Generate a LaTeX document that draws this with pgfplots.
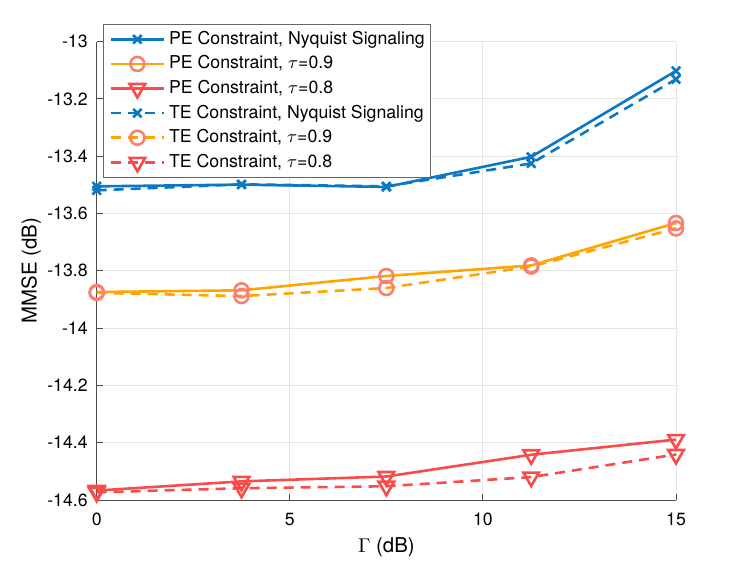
\documentclass[border=0pt]{standalone}
\usepackage{fontspec}
\setmainfont{TeX Gyre Heros}
\usepackage{pgfplots}
\pgfplotsset{compat=1.18}
\definecolor{cblue}{RGB}{10,120,195}
\definecolor{corange}{RGB}{255,165,0}
\definecolor{cred}{RGB}{250,75,75}
\definecolor{csalmon}{RGB}{250,128,114}
\begin{document}
\begin{tikzpicture}[font=\fontsize{8.85bp}{10.6bp}\selectfont]
\useasboundingbox (-48.35bp,-30.5bp) rectangle (325.15bp,250bp);
\begin{axis}[
  scale only axis, width=289.65bp, height=229.15bp,
  xmin=0, xmax=15, ymin=-14.6, ymax=-13,
  xtick={0,5,10,15}, xticklabels={0,5,10,15},
  ytick={-14.6,-14.4,-14.2,-14,-13.8,-13.6,-13.4,-13.2,-13},
  yticklabels={-14.6,-14.4,-14.2,-14,-13.8,-13.6,-13.4,-13.2,-13},
  axis x line*=bottom, axis y line*=left,
  tick align=inside, major tick length=3bp,
  grid=major, major grid style={black!10, line width=0.5bp},
  axis line style={black!70, line width=0.5bp},
  tick style={black!70, line width=0.5bp},
  xticklabel style={yshift=-3bp},
  yticklabel style={xshift=-1bp},
  clip=false,
  xlabel={$\Gamma$ (dB)}, ylabel={MMSE (dB)},
  xlabel style={at={(axis description cs:0.5,-0.104)}, anchor=center, font=\fontsize{10.2bp}{12bp}\selectfont},
  ylabel style={at={(axis description cs:-0.113,0.5)}, anchor=center, font=\fontsize{10.2bp}{12bp}\selectfont},
  legend cell align=left,
  legend style={at={(0.011,1.039)}, anchor=north west, draw=black!60, line width=0.5bp,
    fill=white, inner sep=3bp, row sep=3.3bp, column sep=2bp,
    nodes={inner sep=0pt, text height=7bp, text depth=2bp, anchor=west}},
  legend image code/.code={\draw[mark repeat=2,mark phase=2] plot coordinates {(0bp,0bp) (13.25bp,0bp) (26.5bp,0bp)};},
  every axis plot/.append style={line width=1.3bp},
]
\addplot[cblue, mark=x, mark size=3bp, mark options={solid}] coordinates {(0,-13.505) (3.75,-13.499) (7.5,-13.507) (11.25,-13.402) (15,-13.102)};
\addlegendentry{PE Constraint, Nyquist Signaling}
\addplot[corange, mark=o, mark size=3.5bp, mark options={solid, draw=csalmon}] coordinates {(0,-13.874) (3.75,-13.868) (7.5,-13.818) (11.25,-13.781) (15,-13.633)};
\addlegendentry{PE Constraint, $\tau$=0.9}
\addplot[cred, mark=triangle, mark size=4.5bp, mark options={solid, rotate=180}] coordinates {(0,-14.567) (3.75,-14.535) (7.5,-14.518) (11.25,-14.442) (15,-14.389)};
\addlegendentry{PE Constraint, $\tau$=0.8}
\addplot[cblue, dash pattern=on 5bp off 3.5bp, mark=x, mark size=3bp, mark options={solid}] coordinates {(0,-13.519) (3.75,-13.498) (7.5,-13.505) (11.25,-13.425) (15,-13.131)};
\addlegendentry{TE Constraint, Nyquist Signaling}
\addplot[corange, dash pattern=on 5bp off 3.5bp, mark=o, mark size=3.5bp, mark options={solid, draw=csalmon}] coordinates {(0,-13.877) (3.75,-13.888) (7.5,-13.86) (11.25,-13.785) (15,-13.652)};
\addlegendentry{TE Constraint, $\tau$=0.9}
\addplot[cred, dash pattern=on 5bp off 3.5bp, mark=triangle, mark size=4.5bp, mark options={solid, rotate=180}] coordinates {(0,-14.573) (3.75,-14.559) (7.5,-14.552) (11.25,-14.52) (15,-14.441)};
\addlegendentry{TE Constraint, $\tau$=0.8}
\end{axis}
\end{tikzpicture}
\end{document}
